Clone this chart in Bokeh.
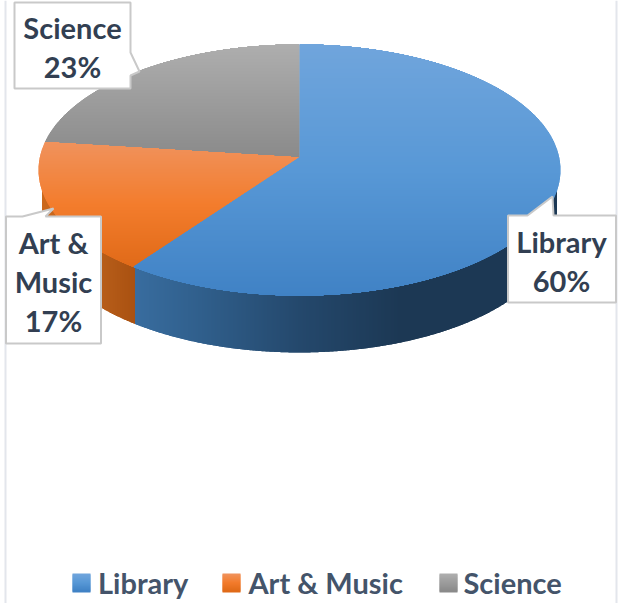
import numpy as np
from bokeh.plotting import figure
from bokeh.models import Range1d
from bokeh.core.properties import value
from bokeh.embed import file_html
from bokeh.resources import INLINE

# ---- data ----
categories = ["Library", "Art & Music", "Science"]
shares = [60, 17, 23]
label_lines = [["Library", "60%"], ["Art &", "Music", "17%"], ["Science", "23%"]]

# ---- styles ----
W, H = 621, 603
top_colors = [
    [(112, 165, 220), (88, 152, 214), (64, 130, 197)],
    [(240, 146, 92), (243, 124, 44), (224, 106, 24)],
    [(174, 174, 174), (156, 156, 156), (138, 138, 138)],
]
wall_stops = {
    0: ([137, 200, 300, 400, 560], [(56, 108, 158), (48, 95, 140), (36, 72, 108), (28, 56, 84), (28, 56, 84)]),
    1: ([38, 100, 137], [(205, 105, 28), (184, 94, 26), (168, 80, 16)]),
}
# perspective of the pie
APEX_X, APEX_Y = 299.0, 157.0
C, D_, K = 259.7, 124.3, 0.0996
WALL_SCALE, WALL_DROP = 0.985, 59.0
LABEL_COLOR = "#323f52"
LEGEND_COLOR = "#44546a"
BOX_EDGE = "#c9c9c9"
FRAME = "#e3e6ec"
FONT = value("Lato")

# label boxes: left, top, right, bottom, callout (x1,y1, tipx,tipy, x2,y2)
boxes = {
    0: (507.5, 215, 615.5, 302, (527, 215, 552, 196, 553, 215), 561, 241),
    1: (5.5, 216, 100.5, 343, (22, 216, 53, 208, 45, 216), 53, 242),
    2: (14, 2, 130, 88, (130, 52, 139, 71, 130, 75), 72, 27),
}
legend_swatch_x = [72, 222, 439]
legend_text_x = [97.5, 248, 463]


def rgb(c):
    return "#%02x%02x%02x" % tuple(int(round(v)) for v in c)


def ramp(stops_x, stops_c, x):
    return rgb([np.interp(x, stops_x, [c[i] for c in stops_c]) for i in range(3)])


edges = np.cumsum([0] + shares) / sum(shares) * 360.0

p = figure(width=W, height=H, x_range=Range1d(0, W), y_range=Range1d(H, 0),
           x_axis_type=None, y_axis_type=None, toolbar_location=None,
           output_backend="svg", min_border=0, outline_line_color=None)
p.grid.visible = False
p.styles = {"position": "absolute", "left": "0px", "top": "0px"}

# outer chart frame
p.segment([5, 616], [0, 0], [5, 616], [H, H], line_color=FRAME, line_width=2)


def rim(t_deg):
    t = np.radians(t_deg)
    w = 1 + K * np.cos(t)
    return C * np.sin(t) / w, D_ * np.cos(t) / w


# side wall: columns coloured along x (overlapping so that no seams show)
ts = np.linspace(90, 270, 1441)
rx, ry = rim(ts)
bx = APEX_X + WALL_SCALE * rx
by = APEX_Y + WALL_DROP - WALL_SCALE * ry
order = np.argsort(bx)
cols = np.arange(int(np.ceil(bx.min())), int(np.floor(bx.max())))
col_x, col_b, col_c = [], [], []
for x in cols:
    cx = x + 0.5
    b = np.interp(cx, bx[order], by[order])
    t = np.interp(cx, bx[order], ts[order])
    i = int(np.searchsorted(edges, t, side="right") - 1)
    if i in wall_stops:
        col_x.append(cx)
        col_b.append(b)
        col_c.append(ramp(*wall_stops[i], cx))
p.vbar(x=col_x, width=2, bottom=[APEX_Y] * len(col_x), top=col_b,
       fill_color=col_c, fill_alpha=1.0, line_color=None)

# top surface: rows split by slice, each row one shade
xs = np.arange(30, 570, 0.2)
row_y, row_l, row_r, row_c = [], [], [], []
slice_rows = {0: (44, 295), 1: (142, 267), 2: (44, 157)}
for yy in range(40, 300):
    Y = APEX_Y - (yy + 0.5)
    X = xs - APEX_X
    v = Y / (D_ - K * Y)
    u = X * (1 + K * v) / C
    inside = u * u + v * v <= 1
    ang = np.degrees(np.arctan2(u, v)) % 360
    idx = np.searchsorted(edges, ang, side="right") - 1
    idx = np.where(inside, idx, -1)
    change = np.nonzero(np.diff(idx))[0]
    starts = np.r_[0, change + 1]
    ends = np.r_[change, len(xs) - 1]
    for s, e in zip(starts, ends):
        n = int(idx[s])
        if n < 0:
            continue
        tops = slice_rows[n]
        f = (yy - tops[0]) / (tops[1] - tops[0])
        row_y.append(yy + 0.5)
        row_l.append(xs[s] - 0.1)
        row_r.append(xs[e] + 0.1)
        row_c.append(ramp([0, 0.5, 1], top_colors[n], f))
p.hbar(y=row_y, height=2, left=row_l, right=row_r, fill_color=row_c, fill_alpha=1.0, line_color=None)

# callout label boxes
for i, lines in enumerate(label_lines):
    l, t, r, b, tail, tx, ty = boxes[i]
    x1, y1, px, py, x2, y2 = tail
    if y1 == t and y2 == t:  # tail on the top side
        poly_x = [l, x1, px, x2, r, r, l]
        poly_y = [t, y1, py, y2, t, b, b]
    else:  # tail on the right side
        poly_x = [l, r, x1, px, x2, r, l]
        poly_y = [t, t, y1, py, y2, b, b]
    p.patch(poly_x + [l], poly_y + [t], fill_color="white", fill_alpha=1.0, line_color=BOX_EDGE, line_width=2)
    p.text([tx] * len(lines), [ty + 39 * j for j in range(len(lines))], text=lines,
           text_font=FONT, text_font_style="bold", text_font_size="29px",
           text_color=LABEL_COLOR, text_align="center", text_baseline="middle")

# legend
for i, name in enumerate(categories):
    x0 = legend_swatch_x[i]
    yrows = list(range(573, 591))
    p.quad(left=[x0] * len(yrows), right=[x0 + 18] * len(yrows),
           top=yrows, bottom=[y + 2 for y in yrows],
           fill_color=[ramp([0, 0.5, 1], top_colors[i], (y - 573) / 17) for y in yrows],
           fill_alpha=1.0, line_color=None)
    p.text([legend_text_x[i]], [582], text=[name], text_font=FONT, text_font_style="bold",
           text_font_size="29px", text_color=LEGEND_COLOR, text_baseline="middle")

open("out.html", "w").write(file_html(p, INLINE))
